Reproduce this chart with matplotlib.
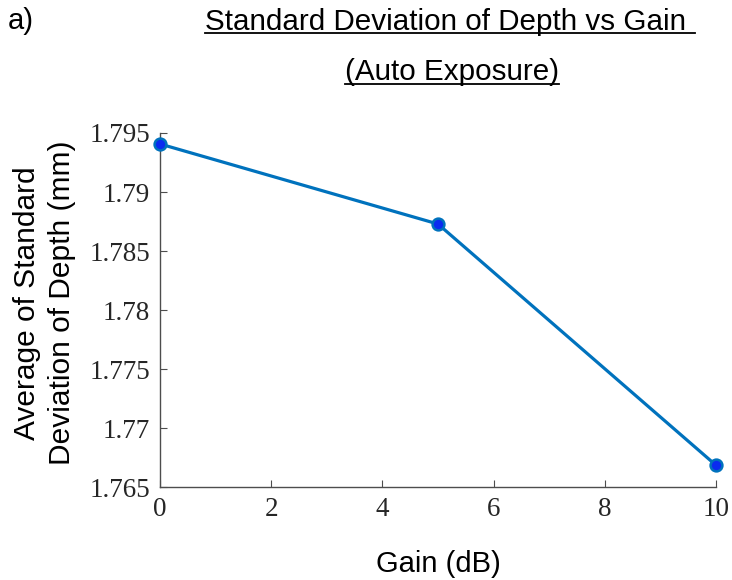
import matplotlib
matplotlib.use("Agg")
from matplotlib import pyplot as plt
from matplotlib.lines import Line2D

# 增益 (dB) 与深度标准差平均值 (mm)
gain = [0, 5, 10]
std_depth = [1.79407, 1.78729, 1.76686]

x_ticks = [0, 2, 4, 6, 8, 10]
y_ticks = [1.765, 1.77, 1.775, 1.78, 1.785, 1.79, 1.795]

line_color = "#0072BD"
marker_color = "#0a2bf0"
axis_color = "#4d4d4d"

fig = plt.figure(figsize=(7.32, 5.8), dpi=100)
ax = fig.add_axes([0.2186, 0.160, 0.7595, 0.6107])

ax.plot(gain, std_depth, color=line_color, linewidth=2.3,
        marker="o", markersize=8.5, markerfacecolor=marker_color,
        markeredgecolor=line_color, markeredgewidth=1.8, clip_on=False, zorder=3)

ax.set_xlim(0, 10)
ax.set_ylim(1.765, 1.795)
ax.set_xticks(x_ticks)
ax.set_yticks(y_ticks)
ax.set_xticklabels([str(v) for v in x_ticks])
ax.set_yticklabels(["1.765", "1.77", "1.775", "1.78", "1.785", "1.79", "1.795"])

# 只保留左边和下边的轴线
for side in ["top", "right"]:
    ax.spines[side].set_visible(False)
for side in ["left", "bottom"]:
    ax.spines[side].set_color(axis_color)
    ax.spines[side].set_linewidth(1.0)

ax.tick_params(direction="in", length=5, width=0.8, color=axis_color,
               labelsize=19.5, labelcolor="#262626", pad=7)
for lab in ax.get_xticklabels() + ax.get_yticklabels():
    lab.set_family("Liberation Serif")

sans = "Liberation Sans"
ax.set_xlabel("Gain (dB)", family=sans, fontsize=21, labelpad=20)
fig.text(0.0608, 0.4776, "Average of Standard\nDeviation of Depth (mm)",
         family=sans, fontsize=21.5, rotation=90, ha="center", va="center",
         multialignment="center", linespacing=1.32)

fig.text(0.011, 0.964, "a)", family=sans, fontsize=21, ha="left", va="center")
t1 = fig.text(0.6148, 0.962, "Standard Deviation of Depth vs Gain ",
              family=sans, fontsize=21.3, ha="center", va="center")
t2 = fig.text(0.6175, 0.875, "(Auto Exposure)",
              family=sans, fontsize=21.3, ha="center", va="center")

# 标题下划线
fig.canvas.draw()
renderer = fig.canvas.get_renderer()
W, H = fig.bbox.width, fig.bbox.height
for t in (t1, t2):
    bb = t.get_window_extent(renderer)
    y = (bb.y0 + 3) / H
    fig.lines.append(Line2D([bb.x0 / W, bb.x1 / W], [y, y],
                            transform=fig.transFigure, color="black", linewidth=1.3))

plt.savefig("out.png", dpi=100)
